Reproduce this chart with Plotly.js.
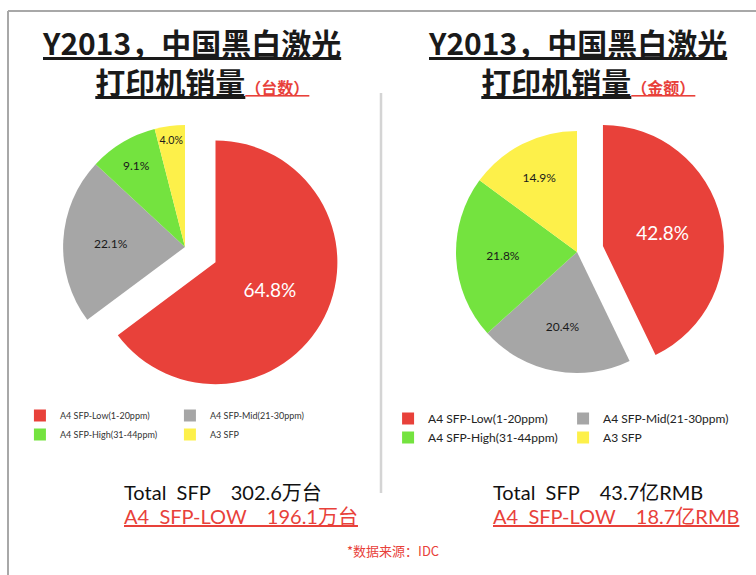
<!DOCTYPE html>
<html><head><meta charset="utf-8">
<script src="https://cdn.plot.ly/plotly-3.0.1.min.js"></script>
<style>html,body{margin:0;padding:0;background:#fff;}</style>
</head><body><div id="chart" style="width:756px;height:575px;"></div>
<script>
// ---- data ----
const categories = ['A4 SFP-Low(1-20ppm)', 'A4 SFP-Mid(21-30ppm)', 'A4 SFP-High(31-44ppm)', 'A3 SFP'];
const unitShare = [64.8, 22.1, 9.1, 4.0];      // 台数 %
const valueShare = [42.8, 20.4, 21.8, 14.9];   // 金额 %
const chartTitles = ['Y2013，中国黑白激光', 'Y2013，中国黑白激光'];
const chartSubtitles = ['打印机销量', '打印机销量'];
const chartMeasures = ['（台数）', '（金额）'];
const totalLabels = ['Total\u00a0\u00a0SFP\u00a0\u00a0\u00a0\u00a0302.6万台', 'Total\u00a0\u00a0SFP\u00a0\u00a0\u00a0\u00a043.7亿RMB'];
const lowLabels = ['A4\u00a0\u00a0SFP-LOW\u00a0\u00a0\u00a0\u00a0196.1万台', 'A4\u00a0\u00a0SFP-LOW\u00a0\u00a0\u00a0\u00a018.7亿RMB'];
const sourceNote = '*数据来源：IDC';

// ---- styles / geometry ----
const W = 756, H = 575;
const M = {l: 20, r: 18, t: 0, b: 0};
const GW = W - M.l - M.r, GH = H - M.t - M.b;
const px = x => (x - M.l) / GW;
const py = y => 1 - (y - M.t) / GH;
const RED = '#E8413A';
const sliceColors = [RED, '#A6A6A6', '#74E33F', '#FDF04A'];
const latin = 'Lato, "Noto Sans CJK SC", sans-serif';
const cjk = '"Noto Sans CJK SC", sans-serif';

const pieCommon = {
  type: 'pie', sort: false, direction: 'clockwise', rotation: 0,
  texttemplate: '%{value:.1f}%', textposition: 'inside', insidetextorientation: 'horizontal',
  marker: {colors: sliceColors, line: {width: 0}},
  textfont: {family: latin, color: ['#ffffff', '#1a1a1a', '#1a1a1a', '#1a1a1a'], size: [19, 12, 12, 12]},
  hoverinfo: 'label+value'
};

// the second pie gets its own legend; a zero-width space keeps its labels distinct from the first pie's
const traces = [
  Object.assign({}, pieCommon, {
    labels: categories, values: unitShare, pull: [0.28, 0, 0, 0],
    domain: {x: [px(20), px(350)], y: [py(403), py(91)]}, legend: 'legend'
  }),
  Object.assign({}, pieCommon, {
    labels: categories.map(c => c + '\u200b'), values: valueShare, pull: [0.22, 0, 0, 0],
    domain: {x: [px(427), px(727)], y: [py(399.6), py(104.4)]}, legend: 'legend2'
  })
];

const ann = [];
const titleX = [191, 577];
const indent = '\u00a0\u00a0\u00a0';
for (let i = 0; i < 2; i++) {
  ann.push({xref: 'paper', yref: 'paper', x: px(titleX[i]), y: py(61), xanchor: 'center', yanchor: 'middle',
    showarrow: false, borderpad: 0, align: 'center',
    text: '<u>' + chartTitles[i] + '</u><br>' + indent + '<u>' + chartSubtitles[i] + '</u><span style="font-size:16px;color:' + RED + '"><u>' + chartMeasures[i] + '</u></span>',
    font: {family: cjk, size: 30, color: '#1a1a1a', weight: 'bold'}});
}
const totX = [123, 492];
for (let i = 0; i < 2; i++) {
  ann.push({xref: 'paper', yref: 'paper', x: px(totX[i]), y: py(492), xanchor: 'left', yanchor: 'middle',
    showarrow: false, borderpad: 0, text: totalLabels[i], font: {family: latin, size: 20, color: '#111111'}});
  ann.push({xref: 'paper', yref: 'paper', x: px(totX[i]), y: py(516), xanchor: 'left', yanchor: 'middle',
    showarrow: false, borderpad: 0, text: '<u>' + lowLabels[i] + '</u>', font: {family: latin, size: 20, color: RED}});
}
ann.push({xref: 'paper', yref: 'paper', x: px(393), y: py(550), xanchor: 'center', yanchor: 'middle',
  showarrow: false, text: sourceNote, font: {family: cjk, size: 13, color: RED}});

const shapes = [
  {type: 'line', xref: 'paper', yref: 'paper', x0: px(8), x1: px(760), y0: py(11), y1: py(11), line: {color: '#A8A8A8', width: 2}},
  {type: 'line', xref: 'paper', yref: 'paper', x0: px(8), x1: px(8), y0: py(11), y1: py(580), line: {color: '#A8A8A8', width: 2}},
  {type: 'line', xref: 'paper', yref: 'paper', x0: px(381), x1: px(381), y0: py(93), y1: py(493), line: {color: '#D4D4D4', width: 2.5}}
];

const legendCommon = {orientation: 'h', bgcolor: 'rgba(0,0,0,0)', borderwidth: 0, yanchor: 'top', traceorder: 'normal'};
const layout = {
  width: W, height: H, margin: Object.assign({autoexpand: false}, M),
  paper_bgcolor: '#ffffff', plot_bgcolor: '#ffffff', showlegend: true,
  legend: Object.assign({}, legendCommon, {x: -0.0001, xanchor: 'left', y: py(401), entrywidth: 105,
    font: {family: latin, size: 9, color: '#333333'}}),
  legend2: Object.assign({}, legendCommon, {x: 1.0001, xanchor: 'right', y: py(404), entrywidth: 130,
    font: {family: latin, size: 12, color: '#222222'}}),
  annotations: ann, shapes: shapes
};

Plotly.newPlot('chart', traces, layout, {displayModeBar: false, staticPlot: true});
</script></body></html>
